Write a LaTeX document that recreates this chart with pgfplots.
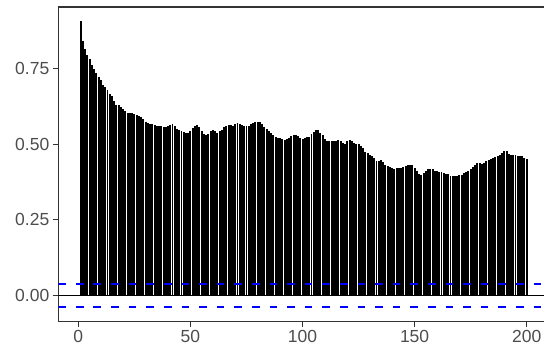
\documentclass[border=0pt]{standalone}
\usepackage{pgfplots}
\pgfplotsset{compat=1.18}
\usepackage{pgfplotstable}
\usepackage{fontspec}
\setmainfont{Liberation Sans}
\definecolor{gthirty}{HTML}{4D4D4D}
\definecolor{gtwenty}{HTML}{333333}
\pgfplotstableread{
lag acf
1 0.907
2 0.843
3 0.816
4 0.794
5 0.783
6 0.763
7 0.750
8 0.737
9 0.722
10 0.711
11 0.697
12 0.690
13 0.678
14 0.667
15 0.660
16 0.642
17 0.631
18 0.629
19 0.623
20 0.616
21 0.609
22 0.605
23 0.602
24 0.602
25 0.601
26 0.596
27 0.593
28 0.590
29 0.582
30 0.575
31 0.570
32 0.568
33 0.566
34 0.563
35 0.562
36 0.560
37 0.559
38 0.556
39 0.557
40 0.560
41 0.565
42 0.566
43 0.562
44 0.552
45 0.548
46 0.544
47 0.540
48 0.536
49 0.537
50 0.543
51 0.553
52 0.560
53 0.563
54 0.556
55 0.543
56 0.533
57 0.529
58 0.535
59 0.543
60 0.546
61 0.544
62 0.538
63 0.544
64 0.548
65 0.556
66 0.562
67 0.565
68 0.563
69 0.562
70 0.566
71 0.569
72 0.568
73 0.563
74 0.562
75 0.562
76 0.562
77 0.566
78 0.570
79 0.572
80 0.574
81 0.574
82 0.566
83 0.556
84 0.550
85 0.543
86 0.536
87 0.530
88 0.523
89 0.521
90 0.521
91 0.518
92 0.514
93 0.519
94 0.522
95 0.526
96 0.530
97 0.531
98 0.527
99 0.521
100 0.518
101 0.521
102 0.524
103 0.523
104 0.533
105 0.542
106 0.548
107 0.547
108 0.538
109 0.530
110 0.518
111 0.511
112 0.510
113 0.510
114 0.510
115 0.511
116 0.515
117 0.510
118 0.505
119 0.500
120 0.511
121 0.514
122 0.511
123 0.505
124 0.502
125 0.500
126 0.494
127 0.486
128 0.475
129 0.470
130 0.464
131 0.461
132 0.456
133 0.443
134 0.444
135 0.448
136 0.440
137 0.433
138 0.429
139 0.426
140 0.423
141 0.419
142 0.423
143 0.423
144 0.420
145 0.425
146 0.428
147 0.430
148 0.431
149 0.430
150 0.420
151 0.410
152 0.400
153 0.399
154 0.405
155 0.410
156 0.418
157 0.419
158 0.418
159 0.413
160 0.411
161 0.408
162 0.407
163 0.406
164 0.403
165 0.400
166 0.395
167 0.396
168 0.396
169 0.396
170 0.397
171 0.399
172 0.404
173 0.409
174 0.413
175 0.419
176 0.424
177 0.430
178 0.437
179 0.437
180 0.436
181 0.438
182 0.444
183 0.449
184 0.452
185 0.454
186 0.457
187 0.460
188 0.464
189 0.470
190 0.477
191 0.477
192 0.467
193 0.464
194 0.463
195 0.464
196 0.461
197 0.462
198 0.462
199 0.456
200 0.450
}\acftable
\begin{document}
\begin{tikzpicture}
\begin{axis}[name=ax, scale only axis, width=490.7bp, height=314.7bp,
  xmin=-8.95, xmax=209.95, ymin=-0.087, ymax=0.954,
  xtick={0,50,100,150,200},
  ytick={0,0.25,0.5,0.75},
  yticklabels={0.00,0.25,0.50,0.75},
  xtick pos=bottom, ytick pos=left,
  tick align=outside, major tick length=5.5bp,
  tick style={gtwenty, line width=1.07bp},
  axis line style={gtwenty, line width=1.07bp},
  /pgf/number format/assume math mode=true,
  ticklabel style={font=\fontsize{17.5bp}{20bp}\selectfont, text=gthirty},
  clip=true]
\addplot[black, line width=1.6bp] coordinates {(-8.95,0) (209.95,0)};
\addplot[ycomb, black, line width=1.95bp, mark=none] table[x=lag, y=acf] {\acftable};
\addplot[blue, line width=2bp, dash pattern=on 7.7bp off 9.9bp] coordinates {(-8.95,0.039) (209.95,0.039)};
\addplot[blue, line width=2bp, dash pattern=on 7.7bp off 9.9bp] coordinates {(-8.95,-0.039) (209.95,-0.039)};
\end{axis}
\pgfresetboundingbox
\path[use as bounding box] ([shift={(-58.3bp,-32.3bp)}]ax.south west) rectangle ++(544bp,354bp);
\end{tikzpicture}
\end{document}
